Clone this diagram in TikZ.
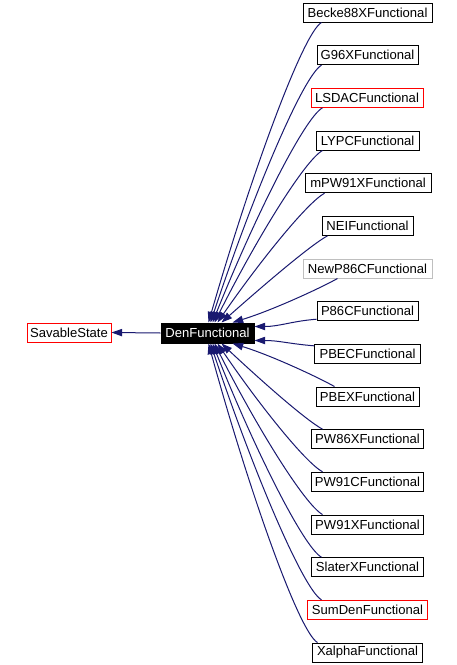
\documentclass[tikz,border=0pt]{standalone}
\usepackage{fontspec}
\setmainfont{Liberation Sans}
\usetikzlibrary{arrows.meta,calc}
\definecolor{edgeblue}{HTML}{191970}
\definecolor{boxred}{HTML}{FF0000}
\definecolor{boxgray}{HTML}{BFBFBF}
\begin{document}
\begin{tikzpicture}[x=0.75pt,y=-0.75pt,
  box/.style={draw=black,line width=0.75pt,fill=white,inner sep=0pt,minimum height=14.25pt,font=\fontsize{9.8}{11}\selectfont,text=black},
  redbox/.style={box,draw=boxred},
  graybox/.style={box,draw=boxgray},
  denbox/.style={box,fill=black,text=white},
  edge/.style={draw=edgeblue,line width=0.75pt,{Triangle[length=8pt,width=5.5pt]}-}]
\useasboundingbox (0,0) rectangle (457,665);
\fill[white] (0,0) rectangle (457,665);

\node[redbox,minimum width=63pt] (sav) at (69,332.5) {SavableState};
\node[denbox,minimum width=69.75pt,minimum height=15pt] (den) at (207.5,333) {DenFunctional};

\node[box,minimum width=96.75pt] (c0) at (367.5,12.5) {Becke88XFunctional};
\node[box,minimum width=75.75pt] (c1) at (367.5,55.2) {G96XFunctional};
\node[redbox,minimum width=84pt] (c2) at (367,97.8) {LSDACFunctional};
\node[box,minimum width=77.25pt] (c3) at (367.5,140.5) {LYPCFunctional};
\node[box,minimum width=94.5pt] (c4) at (368,183.2) {mPW91XFunctional};
\node[box,minimum width=68.25pt] (c5) at (367.5,225.8) {NEIFunctional};
\node[graybox,minimum width=96.75pt] (c6) at (367.5,268.5) {NewP86CFunctional};
\node[box,minimum width=75.75pt] (c7) at (367.5,311.2) {P86CFunctional};
\node[box,minimum width=79.5pt] (c8) at (367.5,353.8) {PBECFunctional};
\node[box,minimum width=77.25pt] (c9) at (367.5,396.5) {PBEXFunctional};
\node[box,minimum width=84pt] (c10) at (367.5,439.2) {PW86XFunctional};
\node[box,minimum width=84pt] (c11) at (367.5,481.8) {PW91CFunctional};
\node[box,minimum width=84pt] (c12) at (367.5,524.5) {PW91XFunctional};
\node[box,minimum width=84pt] (c13) at (367.5,567.2) {SlaterXFunctional};
\node[redbox,minimum width=90pt] (c14) at (367.5,609.8) {SumDenFunctional};
\node[box,minimum width=82.5pt] (c15) at (367.5,652.5) {XalphaFunctional};

\draw[edge] (sav.east) -- (den.west);

\foreach \n/\a/\t in {c0/19/48,c1/5/50,c2/12/52,c3/7/54,c4/20/57,c5/6/61,c6/35/72} {
  \coordinate (t\n) at ($(den.north west)+(\t,0)$);
  \coordinate (s\n) at ($(\n.south west)+(\a,0)$);
  \draw[edge] (t\n) .. controls ($(t\n)!0.55!(s\n)+(-18,12)$) and ($(s\n)+(-18,10)$) .. (s\n);
}
\foreach \n/\a/\t in {c9/19/72,c10/11.5/61,c11/11.5/57,c12/11.5/54,c13/10.5/52,c14/14.5/50,c15/5.5/48} {
  \coordinate (t\n) at ($(den.south west)+(\t,0)$);
  \coordinate (s\n) at ($(\n.north west)+(\a,0)$);
  \draw[edge] (t\n) .. controls ($(t\n)!0.55!(s\n)+(-18,-12)$) and ($(s\n)+(-18,-10)$) .. (s\n);
}
\coordinate (tc7) at ($(den.north east)+(0,4)$);
\coordinate (sc7) at ($(c7.south west)+(0,-2)$);
\draw[edge] (tc7) .. controls ($(tc7)+(25,0)$) and ($(sc7)+(-25,2)$) .. (sc7);
\coordinate (tc8) at ($(den.south east)+(0,-3)$);
\coordinate (sc8) at ($(c8.north west)+(0,2)$);
\draw[edge] (tc8) .. controls ($(tc8)+(25,0)$) and ($(sc8)+(-25,-2)$) .. (sc8);
\end{tikzpicture}
\end{document}
